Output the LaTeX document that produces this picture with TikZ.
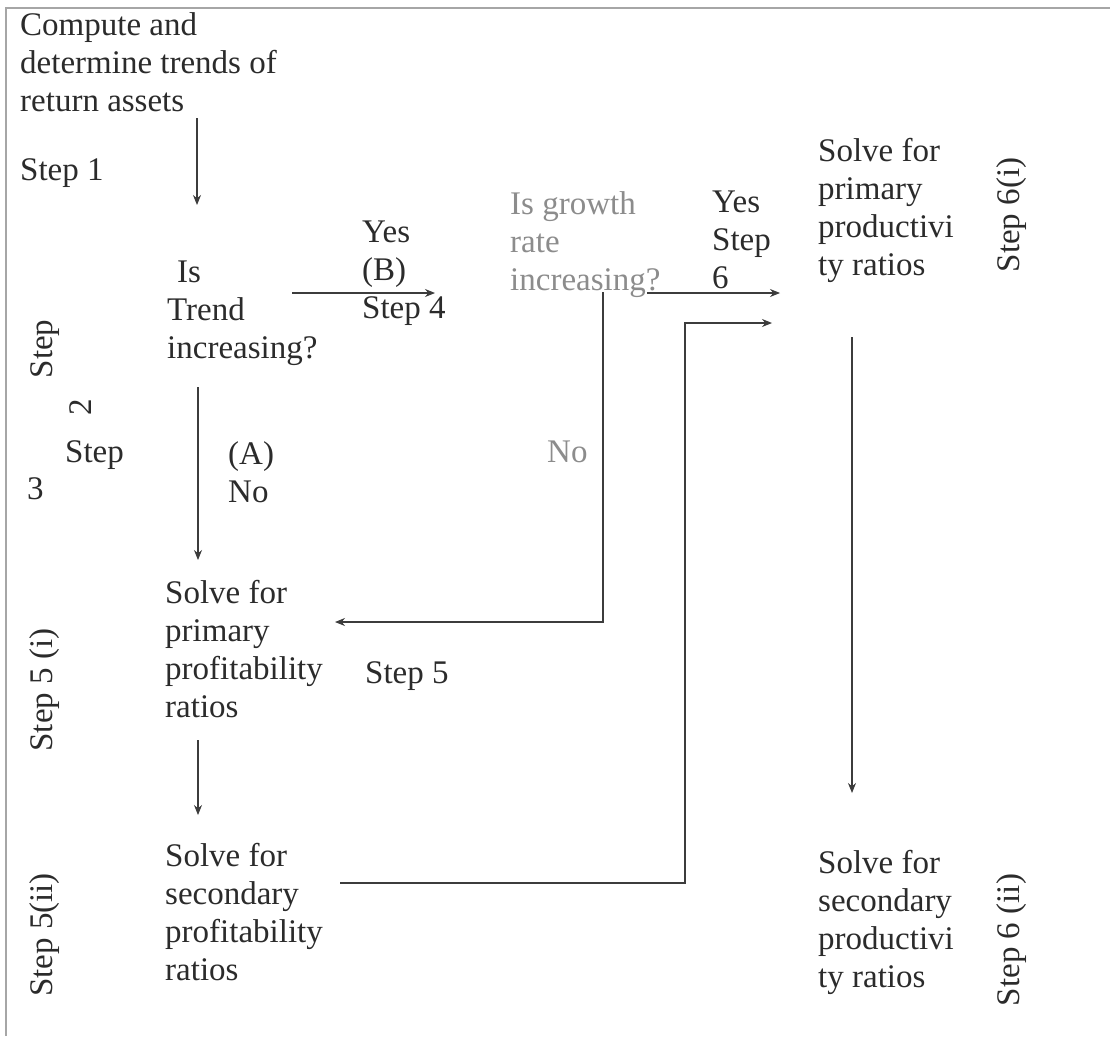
\documentclass[tikz,border=0pt]{standalone}
\usepackage{fontspec}
\setmainfont{Liberation Serif}
\usepackage{tikz}
\usetikzlibrary{positioning,arrows.meta,calc}
\usepackage{xcolor}
\definecolor{ink}{HTML}{2B2B2B}
\definecolor{faintink}{HTML}{8C8C8C}
\definecolor{rule}{HTML}{3C3C3C}

\begin{document}
\begin{tikzpicture}[x=1pt,y=-1pt,
  every node/.style={font=\fontsize{33}{38}\selectfont,inner sep=0pt,text=ink},
  txt/.style={align=left,anchor=north west},
  faint/.style={txt,text=faintink},
  sidelbl/.style={rotate=90},
  flow/.style={draw=rule,line width=1.1pt,-{Stealth[length=10pt,width=8pt]}},
  link/.style={draw=rule,line width=1.1pt}]
\useasboundingbox (0,0) rectangle (1110,1036);
\draw[gray!70,line width=1.2pt] (6,1036) -- (6,8) -- (1110,8);
\node[txt] (compute) at (20,12) {Compute and\\determine trends of\\return assets};
\node[txt] (step1) at (20,158) {Step 1};
\node[txt] (trend) at (167,261) {\hspace*{10pt}Is\\Trend\\increasing?};
\node[txt] (yesB) at (362,221) {Yes\\(B)\\Step 4};
\node[faint] (growth) at (510,191) {Is growth\\rate\\increasing?};
\node[txt] (yes6) at (712,191) {Yes\\Step\\6};
\node[txt] (prod1) at (818,138) {Solve for\\primary\\productivi\\ty ratios};
\node[sidelbl] (step6i) at (1012,215) {Step 6(i)};
\node[sidelbl] (step2a) at (45,349) {Step};
\node[sidelbl] (step2b) at (81,407) {2};
\node[txt] (step3a) at (65,440) {Step};
\node[txt] (step3b) at (27,477) {3};
\node[txt] (noA) at (228,441) {(A)\\No};
\node[faint] (noG) at (547,441) {No};
\node[txt] (prof1) at (165,580) {Solve for\\primary\\profitability\\ratios};
\node[txt] (step5) at (365,661) {Step 5};
\node[sidelbl] (step5i) at (45,690) {Step 5 (i)};
\node[txt] (prof2) at (165,843) {Solve for\\secondary\\profitability\\ratios};
\node[sidelbl] (step5ii) at (45,935) {Step 5(ii)};
\node[txt] (prod2) at (818,850) {Solve for\\secondary\\productivi\\ty ratios};
\node[sidelbl] (step6ii) at (1012,940) {Step 6 (ii)};
\coordinate (c1a) at (197,118);
\coordinate (c1b) at (197,205);
\coordinate (c2a) at (292,293);
\coordinate (c2b) at (435,293);
\coordinate (c3a) at (198,387);
\coordinate (c3b) at (198,560);
\coordinate (c4a) at (603,292);
\coordinate (c4b) at (603,622);
\coordinate (c4c) at (335,622);
\coordinate (c5a) at (647,293);
\coordinate (c5b) at (780,293);
\coordinate (c6a) at (340,883);
\coordinate (c6b) at (685,883);
\coordinate (c6c) at (685,323);
\coordinate (c6d) at (772,323);
\coordinate (c7a) at (852,337);
\coordinate (c7b) at (852,793);
\coordinate (c8a) at (198,740);
\coordinate (c8b) at (198,815);
\draw[flow] (c1a) -- (c1b);
\draw[flow] (c2a) -- (c2b);
\draw[flow] (c3a) -- (c3b);
\draw[flow] (c4a) -- (c4b) -- (c4c);
\draw[flow] (c5a) -- (c5b);
\draw[flow] (c6a) -- (c6b) -- (c6c) -- (c6d);
\draw[flow] (c7a) -- (c7b);
\draw[flow] (c8a) -- (c8b);
\end{tikzpicture}
\end{document}
